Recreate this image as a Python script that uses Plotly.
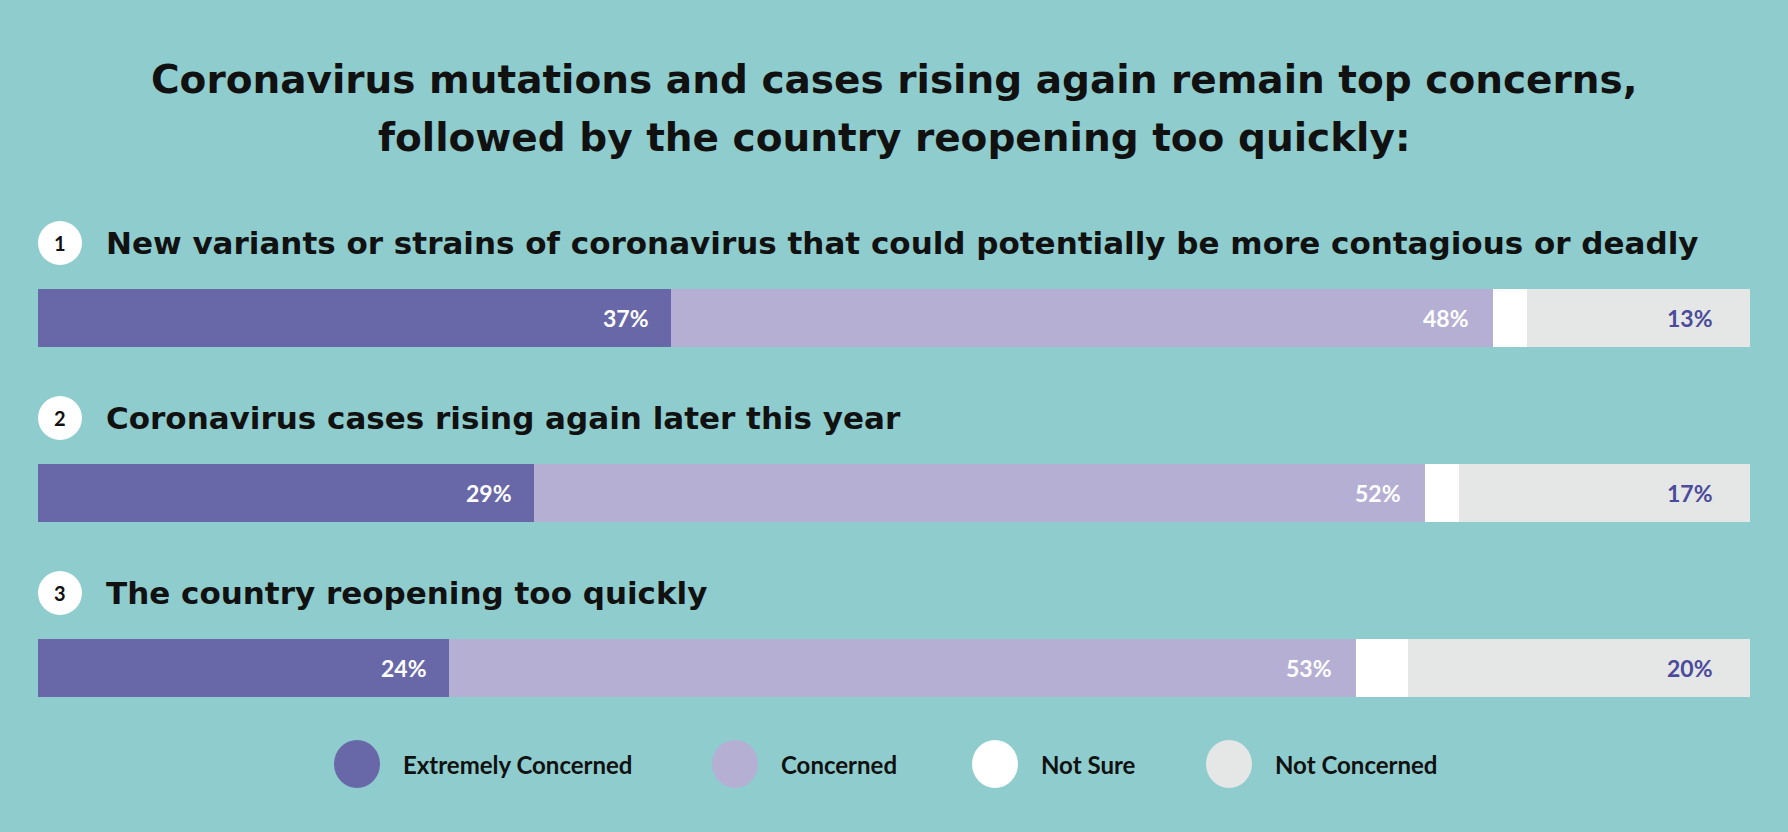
import plotly.graph_objects as go

# ---- data ----
questions = [
    "New variants or strains of coronavirus that could potentially be more contagious or deadly",
    "Coronavirus cases rising again later this year",
    "The country reopening too quickly",
]
numbers = ["1", "2", "3"]
series_names = ["Extremely Concerned", "Concerned", "Not Sure", "Not Concerned"]
extremely = [37, 29, 24]
concerned = [48, 52, 53]
not_sure = [2, 2, 3]
not_concerned = [13, 17, 20]
title_lines = [
    "Coronavirus mutations and cases rising again remain top concerns,",
    "followed by the country reopening too quickly:",
]

# ---- style ----
BG = "#8ECCCD"
colors = ["#6867A8", "#B5AFD4", "#FFFFFF", "#E5E7E6"]
label_colors = ["#FFFFFF", "#FFFFFF", None, "#4B4B9B"]
label_shift = [-20, -22, 0, -35]
HEAD_FONT = "DejaVu Sans"
FONT = "Lato"
W, H = 1788, 832
title_y_px = [79, 137]

values = [extremely, concerned, not_sure, not_concerned]
cats = [f"q{i}" for i in range(len(questions))]

fig = go.Figure()
for name, vals, col in zip(series_names, values, colors):
    fig.add_trace(go.Bar(
        y=cats, x=vals, name=name, orientation="h",
        marker=dict(color=col, line=dict(width=0)),
        width=0.33, showlegend=False, hoverinfo="x+name",
    ))

annotations = []
# bar value labels
for si, vals in enumerate(values):
    if label_colors[si] is None:
        continue
    for ci, c in enumerate(cats):
        cum = sum(values[k][ci] for k in range(si + 1))
        annotations.append(dict(
            x=cum, y=c, xref="x", yref="y", text=f"<b>{vals[ci]}%</b>",
            showarrow=False, xanchor="right", yanchor="middle",
            xshift=label_shift[si],
            font=dict(family=FONT, size=23, color=label_colors[si]),
        ))

shapes = []
# question labels + numbered circles
for ci, c in enumerate(cats):
    annotations.append(dict(
        x=0, y=c, xref="x", yref="y", text=f"<b>{questions[ci]}</b>",
        showarrow=False, xanchor="left", yanchor="middle",
        xshift=66, yshift=75,
        font=dict(family=HEAD_FONT, size=31, color="#111111"),
    ))
    shapes.append(dict(
        type="circle", xref="x", yref="y", xsizemode="pixel", ysizemode="pixel",
        xanchor=0, yanchor=c, x0=0, x1=44, y0=75 - 22, y1=75 + 22,
        fillcolor="#FFFFFF", line=dict(width=0), layer="above",
    ))
    annotations.append(dict(
        x=0, y=c, xref="x", yref="y", text=f"<b>{numbers[ci]}</b>",
        showarrow=False, xanchor="center", yanchor="middle",
        xshift=22, yshift=75,
        font=dict(family=FONT, size=20, color="#111111"),
    ))

# title (two lines)
for line, ypx in zip(title_lines, title_y_px):
    annotations.append(dict(
        x=0.5, y=1 - ypx / H, xref="paper", yref="paper",
        text=f"<b>{line}</b>",
        showarrow=False, xanchor="center", yanchor="middle", align="center",
        font=dict(family=HEAD_FONT, size=39, color="#111111"),
    ))

# custom legend (circles + text), positions in pixels
legend_px = [357, 735, 995, 1229]
legend_y = 764
for name, col, px in zip(series_names, colors, legend_px):
    shapes.append(dict(
        type="circle", xref="paper", yref="paper",
        x0=(px - 23) / W, x1=(px + 23) / W,
        y0=1 - (legend_y + 24) / H, y1=1 - (legend_y - 24) / H,
        fillcolor=col, line=dict(width=0),
    ))
    annotations.append(dict(
        x=(px + 44) / W, y=1 - legend_y / H, xref="paper", yref="paper",
        text=f"<b>{name}</b>", showarrow=False, xanchor="left", yanchor="middle",
        font=dict(family=FONT, size=24, color="#111111"),
    ))

fig.update_layout(
    width=W, height=H, autosize=False,
    margin=dict(l=0, r=0, t=0, b=0),
    paper_bgcolor=BG, plot_bgcolor=BG,
    barmode="stack", bargap=0,
    xaxis=dict(range=[0, 100], domain=[38 / W, 1750 / W], visible=False, fixedrange=True),
    yaxis=dict(categoryorder="array", categoryarray=cats, range=[2.5, -1.0],
               domain=[1 - 755.5 / H, 1 - 143 / H], visible=False, fixedrange=True),
    annotations=annotations, shapes=shapes,
)

fig.write_html(
    "out.html",
    config={"displayModeBar": False},
    post_script="document.body.style.margin='0';document.body.style.background='%s';" % BG,
)
